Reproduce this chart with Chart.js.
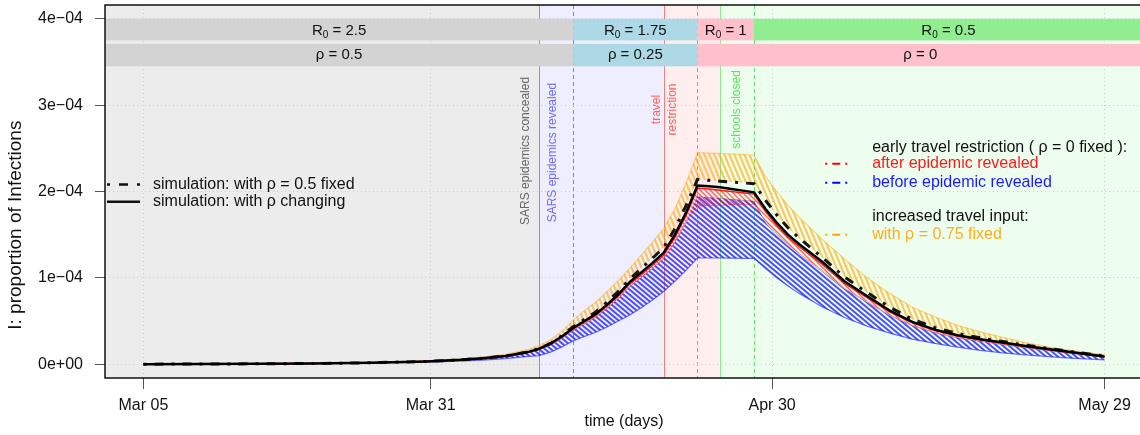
<!DOCTYPE html>
<html>
<head>
<meta charset="utf-8">
<script src="https://cdn.jsdelivr.net/npm/chart.js@4.4.0/dist/chart.umd.min.js"></script>
<style>
  html, body { margin: 0; padding: 0; background: #fff; overflow: hidden; }
  canvas { display: block; }
</style>
</head>
<body>
<canvas id="sirChart" width="1150" height="435"></canvas>
<script>
// days since Mar 05
const days = [0, 5, 10, 15, 20, 25, 28, 30, 32, 34,
  35, 36, 37, 38, 39, 40, 41, 42, 43, 44, 45, 46, 47, 48, 49, 50, 51, 52, 53, 54,
  55, 56, 57, 58, 60, 62, 64, 66, 68, 70, 72, 74, 76, 78, 80, 82, 85]

// proportion infected, in units of 1e-04
const rhoChanging = [0.000, 0.002, 0.004, 0.008, 0.016, 0.032, 0.050, 0.068, 0.095, 0.140,
  0.180, 0.240, 0.320, 0.420, 0.500, 0.580, 0.690, 0.810, 0.950, 1.060, 1.170, 1.290, 1.500, 1.760, 2.070, 2.060, 2.050, 2.030, 2.010, 1.990,
  1.800, 1.640, 1.500, 1.390, 1.190, 0.960, 0.790, 0.620, 0.490, 0.400, 0.335, 0.290, 0.250, 0.210, 0.175, 0.140, 0.090]

const rhoHalfFixed = [0.000, 0.002, 0.004, 0.008, 0.016, 0.032, 0.050, 0.068, 0.095, 0.140,
  0.180, 0.240, 0.330, 0.435, 0.520, 0.605, 0.720, 0.845, 0.985, 1.105, 1.225, 1.350, 1.570, 1.840, 2.140, 2.130, 2.120, 2.110, 2.100, 2.090,
  1.900, 1.730, 1.580, 1.460, 1.240, 1.010, 0.830, 0.660, 0.520, 0.425, 0.355, 0.305, 0.262, 0.220, 0.183, 0.147, 0.095]

// early travel restriction, after epidemic revealed (range of runs)
const afterUpper = [0.000, 0.002, 0.004, 0.008, 0.016, 0.032, 0.049, 0.067, 0.093, 0.137,
  0.176, 0.234, 0.312, 0.410, 0.488, 0.566, 0.673, 0.790, 0.928, 1.035, 1.143, 1.262, 1.470, 1.725, 2.040, 2.030, 2.015, 2.000, 1.985, 1.970,
  1.770, 1.610, 1.470, 1.360, 1.160, 0.935, 0.770, 0.605, 0.478, 0.390, 0.326, 0.282, 0.243, 0.204, 0.170, 0.136, 0.087]
const afterLower = [0.000, 0.002, 0.004, 0.008, 0.015, 0.030, 0.046, 0.063, 0.088, 0.130,
  0.168, 0.224, 0.300, 0.395, 0.470, 0.545, 0.650, 0.765, 0.900, 1.005, 1.110, 1.225, 1.420, 1.660, 1.830, 1.835, 1.840, 1.845, 1.850, 1.850,
  1.660, 1.510, 1.385, 1.280, 1.090, 0.880, 0.725, 0.570, 0.450, 0.368, 0.308, 0.266, 0.230, 0.193, 0.160, 0.128, 0.082]

// early travel restriction, before epidemic revealed (range of runs)
const beforeUpper = [0.000, 0.002, 0.004, 0.008, 0.015, 0.030, 0.046, 0.063, 0.088, 0.130,
  0.166, 0.220, 0.295, 0.390, 0.465, 0.540, 0.645, 0.760, 0.895, 1.000, 1.105, 1.220, 1.410, 1.640, 1.940, 1.930, 1.920, 1.910, 1.900, 1.890,
  1.640, 1.490, 1.370, 1.265, 1.075, 0.870, 0.715, 0.562, 0.444, 0.362, 0.303, 0.262, 0.226, 0.190, 0.157, 0.125, 0.080]
const beforeLower = [0.000, 0.001, 0.003, 0.006, 0.012, 0.024, 0.036, 0.048, 0.065, 0.090,
  0.100, 0.140, 0.200, 0.270, 0.320, 0.370, 0.430, 0.500, 0.570, 0.650, 0.740, 0.840, 0.960, 1.090, 1.230, 1.230, 1.230, 1.228, 1.226, 1.225,
  1.110, 1.000, 0.905, 0.820, 0.665, 0.540, 0.440, 0.360, 0.290, 0.240, 0.198, 0.160, 0.130, 0.108, 0.088, 0.070, 0.050]

// increased travel input, rho = 0.75 fixed (upper edge of runs)
const highTravelUpper = [0.000, 0.002, 0.005, 0.009, 0.019, 0.040, 0.060, 0.082, 0.115, 0.170,
  0.215, 0.280, 0.380, 0.510, 0.620, 0.720, 0.840, 0.970, 1.110, 1.260, 1.410, 1.570, 1.800, 2.100, 2.450, 2.445, 2.440, 2.435, 2.430, 2.420,
  2.180, 2.000, 1.840, 1.700, 1.450, 1.220, 1.000, 0.820, 0.660, 0.550, 0.450, 0.375, 0.310, 0.250, 0.200, 0.160, 0.110]

const xTickDays = [0, 25.4, 55.6, 85]
const xTickLabels = ['Mar 05', 'Mar 31', 'Apr 30', 'May 29']
const yTicks = [0, 1, 2, 3, 4]
const yTickLabels = ['0e+00', '1e\u221204', '2e\u221204', '3e\u221204', '4e\u221204']

// policy timeline (days)
const phaseStart = [-3.4, 35, 46, 51]
const eventDays = [35, 38, 46, 49, 51, 54]
const r0Breaks = [38, 49, 54]
const r0Values = ['2.5', '1.75', '1', '0.5']
const rhoBreaks = [38, 49]
const rhoValues = ['0.5', '0.25', '0']

const FONT = '"Liberation Sans", Arial, sans-serif'

function hatch(color, w, h, lw) {
  const c = document.createElement('canvas')
  c.width = w
  c.height = h
  const g = c.getContext('2d')
  g.strokeStyle = color
  g.lineWidth = lw
  for (const x0 of [-w, 0, w]) {
    g.beginPath()
    g.moveTo(x0 - w / 2, -h / 2)
    g.lineTo(x0 + w * 1.5, h * 1.5)
    g.stroke()
  }
  return g.createPattern(c, 'repeat')
}

const orangeHatch = hatch('rgba(255,170,0,0.62)', 5, 12, 2.2)
const blueHatch = hatch('rgba(20,20,255,0.75)', 6, 5, 2)
const redHatch = hatch('rgba(255,0,0,0.6)', 5, 5, 1.3)

const pts = vals => days.map((d, i) => ({ x: d, y: vals[i] }))

const phaseFill = ['#ececec', '#eeeefe', '#feeeee', '#eefeee']
const eventStyle = [
  { color: '#8c8cf0', dash: [] }, { color: '#7b7bff', dash: [4, 3] },
  { color: '#f08080', dash: [] }, { color: '#ff7b7b', dash: [4, 3] },
  { color: '#8ee88e', dash: [] }, { color: '#66dd66', dash: [4, 3] }
]
const r0Fill = ['#d3d3d3', '#add8e6', '#ffc0cb', '#90ee90']
const rhoFill = ['#d3d3d3', '#add8e6', '#ffc0cb']

function drawR0(ctx, cx, cy, val) {
  const rest = ' = ' + val
  ctx.font = '15px ' + FONT
  const wR = ctx.measureText('R').width
  const wRest = ctx.measureText(rest).width
  ctx.font = '10px ' + FONT
  const wS = ctx.measureText('0').width
  let sx = cx - (wR + wS + wRest) / 2
  const base = cy + 5
  ctx.textAlign = 'left'
  ctx.textBaseline = 'alphabetic'
  ctx.font = '15px ' + FONT
  ctx.fillText('R', sx, base)
  ctx.font = '10px ' + FONT
  ctx.fillText('0', sx + wR, base + 3)
  ctx.font = '15px ' + FONT
  ctx.fillText(rest, sx + wR + wS, base)
}

function bandRow(ctx, a, xs, breaks, fills, top, bottom, label) {
  const edges = [a.left, ...breaks.map(b => xs.getPixelForValue(b)), a.right]
  for (let i = 0; i < fills.length; i++) {
    ctx.fillStyle = fills[i]
    ctx.fillRect(edges[i], top, edges[i + 1] - edges[i], bottom - top)
    ctx.fillStyle = '#111'
    label(ctx, (edges[i] + edges[i + 1]) / 2, (top + bottom) / 2, i)
  }
}

const backdrop = {
  id: 'backdrop',
  beforeDraw(chart) {
    const { ctx, chartArea: a, scales: { x, y } } = chart
    ctx.save()
    for (let i = 0; i < phaseStart.length; i++) {
      const x0 = i === 0 ? a.left : x.getPixelForValue(phaseStart[i])
      const x1 = i < phaseStart.length - 1 ? x.getPixelForValue(phaseStart[i + 1]) : a.right
      ctx.fillStyle = phaseFill[i]
      ctx.fillRect(x0, a.top, x1 - x0, a.bottom - a.top)
    }
    eventDays.forEach((d, i) => {
      const px = Math.round(x.getPixelForValue(d)) + 0.5
      ctx.strokeStyle = eventStyle[i].color
      ctx.setLineDash(eventStyle[i].dash)
      ctx.lineWidth = 1
      ctx.beginPath()
      ctx.moveTo(px, a.top)
      ctx.lineTo(px, a.bottom)
      ctx.stroke()
    })
    ctx.setLineDash([])
    bandRow(ctx, a, x, r0Breaks, r0Fill, y.getPixelForValue(4.0), y.getPixelForValue(3.75),
      (c, cx, cy, i) => drawR0(c, cx, cy, r0Values[i]))
    bandRow(ctx, a, x, rhoBreaks, rhoFill, y.getPixelForValue(3.71), y.getPixelForValue(3.45),
      (c, cx, cy, i) => {
        c.font = '15px ' + FONT
        c.textAlign = 'center'
        c.textBaseline = 'middle'
        c.fillText('\u03c1 = ' + rhoValues[i], cx, cy)
      })
    ctx.restore()
  }
}

function vtext(ctx, str, px, py, color) {
  ctx.save()
  ctx.translate(px, py)
  ctx.rotate(-Math.PI / 2)
  ctx.fillStyle = color
  ctx.font = '12px ' + FONT
  ctx.textAlign = 'center'
  ctx.textBaseline = 'middle'
  ctx.fillText(str, 0, 0)
  ctx.restore()
}

function sample(ctx, x0, x1, yy, color, width, dash) {
  ctx.strokeStyle = color
  ctx.lineWidth = width
  ctx.setLineDash(dash)
  ctx.beginPath()
  ctx.moveTo(x0, yy)
  ctx.lineTo(x1, yy)
  ctx.stroke()
  ctx.setLineDash([])
}

const overlay = {
  id: 'overlay',
  afterDraw(chart) {
    const { ctx, chartArea: a, scales: { x, y } } = chart
    ctx.save()
    // event notes
    const e35 = x.getPixelForValue(35), e46 = x.getPixelForValue(46)
    const e51 = x.getPixelForValue(51), e54 = x.getPixelForValue(54)
    vtext(ctx, 'SARS epidemics concealed', e35 - 14, y.getPixelForValue(2.47), '#666666')
    vtext(ctx, 'SARS epidemics revealed', e35 + 13, y.getPixelForValue(2.45), '#6a6aff')
    vtext(ctx, 'travel', e46 - 7, y.getPixelForValue(2.95), '#ff5f5f')
    vtext(ctx, 'restriction', e46 + 9, y.getPixelForValue(2.95), '#ff5f5f')
    vtext(ctx, 'schools closed', (e51 + e54) / 2, y.getPixelForValue(2.95), '#5fe35f')

    // legends
    ctx.font = '16px ' + FONT
    ctx.textAlign = 'left'
    ctx.textBaseline = 'middle'
    const l1 = y.getPixelForValue(2.08), l2 = y.getPixelForValue(1.88)
    sample(ctx, a.left + 2, a.left + 35, l1, '#111', 2.5, [3, 9, 9, 9])
    sample(ctx, a.left + 2, a.left + 35, l2, '#111', 2.5, [])
    ctx.fillStyle = '#111'
    ctx.fillText('simulation: with \u03c1 = 0.5 fixed', a.left + 48, l1)
    ctx.fillText('simulation: with \u03c1 changing', a.left + 48, l2)

    const tx = x.getPixelForValue(64.45)
    const s0 = x.getPixelForValue(60.3), s1 = x.getPixelForValue(62.5)
    const rows = [
      { v: 2.51, text: 'early travel restriction ( \u03c1 = 0 fixed ):', color: '#111' },
      { v: 2.32, text: 'after epidemic revealed', color: '#ff1a1a', line: '#ff0000' },
      { v: 2.10, text: 'before epidemic revealed', color: '#1a1aff', line: '#0000ff' },
      { v: 1.71, text: 'increased travel input:', color: '#111' },
      { v: 1.50, text: 'with \u03c1 = 0.75 fixed', color: '#fcae1e', line: '#ffa500' }
    ]
    rows.forEach(r => {
      const py = y.getPixelForValue(r.v)
      if (r.line) sample(ctx, s0, s1, py, r.line, 2, [2, 5, 8, 5])
      ctx.fillStyle = r.color
      ctx.fillText(r.text, tx, py)
    })

    // y axis title
    ctx.save()
    ctx.translate(16, y.getPixelForValue(1.61))
    ctx.rotate(-Math.PI / 2)
    ctx.font = '19px ' + FONT
    ctx.textAlign = 'center'
    ctx.textBaseline = 'middle'
    ctx.fillStyle = '#111'
    ctx.fillText('I: proportion of Infections', 0, 0)
    ctx.restore()

    // plot frame
    ctx.strokeStyle = '#111'
    ctx.lineWidth = 1.5
    ctx.strokeRect(a.left, a.top, a.right - a.left, a.bottom - a.top)
    ctx.restore()
  }
}

const axisFont = { family: FONT, size: 16 }

new Chart(document.getElementById('sirChart'), {
  type: 'line',
  data: {
    datasets: [
      { label: 'simulation: with \u03c1 changing', data: pts(rhoChanging), borderColor: '#000', borderWidth: 2.5,
        pointRadius: 0, fill: false, order: 1 },
      { label: 'simulation: with \u03c1 = 0.5 fixed', data: pts(rhoHalfFixed), borderColor: '#151515', borderWidth: 3,
        borderDash: [3, 8, 9, 8], pointRadius: 0, fill: false, order: 2 },
      { label: 'after epidemic revealed', data: pts(afterUpper), borderColor: 'rgba(255,0,0,0.9)', borderWidth: 1.5,
        backgroundColor: redHatch, pointRadius: 0, fill: 3, order: 5 },
      { label: 'after epidemic revealed (low)', data: pts(afterLower), borderColor: 'rgba(255,0,0,0.35)', borderWidth: 1,
        pointRadius: 0, fill: false, order: 6 },
      { label: 'before epidemic revealed', data: pts(beforeUpper), borderColor: 'rgba(0,0,255,0.25)', borderWidth: 1,
        backgroundColor: blueHatch, pointRadius: 0, fill: 5, order: 7 },
      { label: 'before epidemic revealed (low)', data: pts(beforeLower), borderColor: 'rgba(0,0,255,0.55)', borderWidth: 1.2,
        pointRadius: 0, fill: false, order: 8 },
      { label: 'with \u03c1 = 0.75 fixed', data: pts(highTravelUpper), borderColor: 'rgba(255,165,0,0.45)', borderWidth: 1.2,
        backgroundColor: orangeHatch, pointRadius: 0, fill: 1, order: 9 }
    ]
  },
  options: {
    responsive: false,
    animation: false,
    devicePixelRatio: 1,
    layout: { padding: { top: 5, right: 7, left: 0, bottom: 0 } },
    plugins: { legend: { display: false }, tooltip: { enabled: false } },
    scales: {
      x: {
        type: 'linear', min: -3.4, max: 88.4,
        afterBuildTicks: s => { s.ticks = xTickDays.map(v => ({ value: v })) },
        afterFit: s => { s.height = 57; s.paddingLeft = 0; s.paddingRight = 0 },
        ticks: { autoSkip: false, maxRotation: 0, padding: 7, color: '#111', font: axisFont,
          callback: (v, i) => xTickLabels[i] },
        grid: { color: '#cdcdcd', lineWidth: 1, tickLength: 11, tickColor: '#555', tickWidth: 1 },
        border: { display: false, dash: [1, 3] },
        title: { display: true, text: 'time (days)', color: '#111', font: axisFont, padding: { top: 0, bottom: 4 } }
      },
      y: {
        min: -0.16, max: 4.16,
        afterBuildTicks: s => { s.ticks = yTicks.map(v => ({ value: v })) },
        afterFit: s => { s.width = 105; s.paddingTop = 0; s.paddingBottom = 0 },
        ticks: { padding: 12, color: '#111', font: axisFont, callback: (v, i) => yTickLabels[i] },
        grid: { color: '#cdcdcd', lineWidth: 1, tickLength: 10, tickColor: '#555', tickWidth: 1 },
        border: { display: false, dash: [1, 3] }
      }
    }
  },
  plugins: [backdrop, overlay]
})
</script>
</body>
</html>
